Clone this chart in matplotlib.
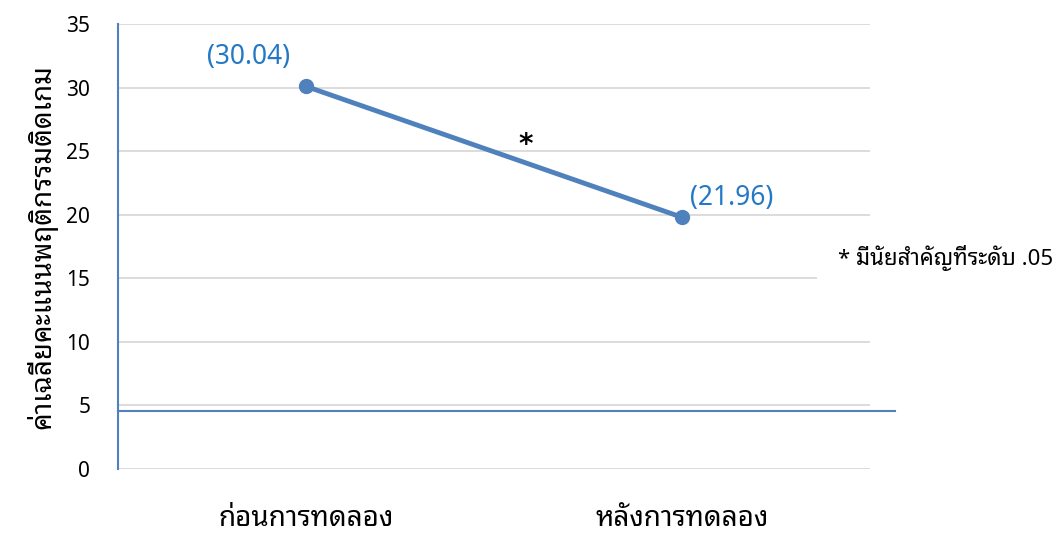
import matplotlib
matplotlib.use("Agg")
import matplotlib.pyplot as plt

plt.rcParams['font.family'] = ['Noto Sans Thai Looped', 'DejaVu Sans']

# data
categories = ["ก่อนการทดลอง", "หลังการทดลอง"]
means = [30.1, 19.8]
point_labels = ["(30.04)", "(21.96)"]
y_ticks = [0, 5, 10, 15, 20, 25, 30, 35]
y_title = "ค่าเฉลี่ยคะแนนพฤติกรรมติดเกม"
note = "* มีนัยสำคัญที่ระดับ .05"
baseline_y = 4.6

blue = "#4f81bd"
label_blue = "#2479c6"

fig = plt.figure(figsize=(10.61, 5.35), dpi=100)
ax = fig.add_axes([0.1112, 0.1234, 0.7088, 0.8316])

x = list(range(len(categories)))
ax.plot(x, means, color=blue, lw=3.5, marker="o", ms=10, zorder=3)

# manual labels next to the points
ax.text(x[0] - 0.152, 32.4, point_labels[0], color=label_blue, fontsize=19,
        ha="center", va="center")
ax.text(x[1] + 0.02, 21.3, point_labels[1], color=label_blue, fontsize=19,
        ha="left", va="center")
ax.text(0.585, 25.5, "*", fontsize=20, fontweight="bold", ha="center", va="center",
        family="DejaVu Sans")

# horizontal blue line that runs past the plot area
ax.plot([-0.5, 1.566], [baseline_y, baseline_y], color=blue, lw=1.5,
        clip_on=False, zorder=2)

ax.set_xlim(-0.5, 1.5)
ax.set_ylim(0, 35)
ax.set_yticks(y_ticks)
ax.set_xticks(x)
ax.set_xticklabels(categories, fontsize=20)
ax.grid(axis="y", color="#d9d9d9", lw=1.3)
ax.set_axisbelow(True)
ax.tick_params(axis="y", length=0, pad=20, labelsize=15)
ax.tick_params(axis="x", length=0, pad=26)
for s in ["top", "right", "bottom"]:
    ax.spines[s].set_visible(False)
ax.spines["left"].set_color(blue)
ax.spines["left"].set_linewidth(1.5)
ax.set_ylabel(y_title, fontsize=20, labelpad=6)

fig.text(838 / 1061, 1 - 258 / 535, note, fontsize=16, ha="left", va="center",
         bbox=dict(facecolor="white", edgecolor="none", pad=15))

fig.savefig("out.png")
